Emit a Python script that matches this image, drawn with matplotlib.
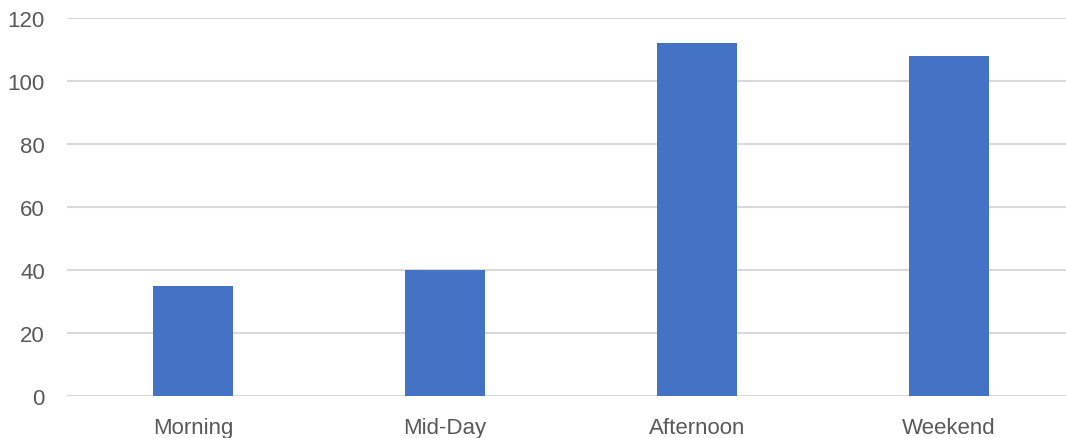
import matplotlib.pyplot as plt

categories = ["Morning", "Mid-Day", "Afternoon", "Weekend"]
values = [35, 40, 112, 108]
yticks = [0, 20, 40, 60, 80, 100, 120]

plt.rcParams['font.family'] = ['Liberation Sans', 'DejaVu Sans']

fig = plt.figure(figsize=(10.66, 4.39), dpi=100)
ax = fig.add_axes([67 / 1066, 1 - 397 / 439, 1 - 67 / 1066, 378 / 439])

x = range(len(categories))
ax.bar(x, values, width=0.315, color="#4472C4", zorder=3)

ax.set_xlim(-0.5, 3 + (1066 - 949) / 252)
ax.set_ylim(0, 120)
ax.set_yticks(yticks)
ax.set_xticks(list(x))
ax.set_xticklabels(categories)

ax.grid(axis="y", color="#D9D9D9", linewidth=1.5, zorder=0)
for s in ["top", "right", "left", "bottom"]:
    ax.spines[s].set_visible(False)
ax.tick_params(axis="both", length=0, labelsize=16, colors="#595959")
ax.tick_params(axis="y", pad=16)
ax.tick_params(axis="x", pad=15)

fig.savefig("out.png", dpi=100)
